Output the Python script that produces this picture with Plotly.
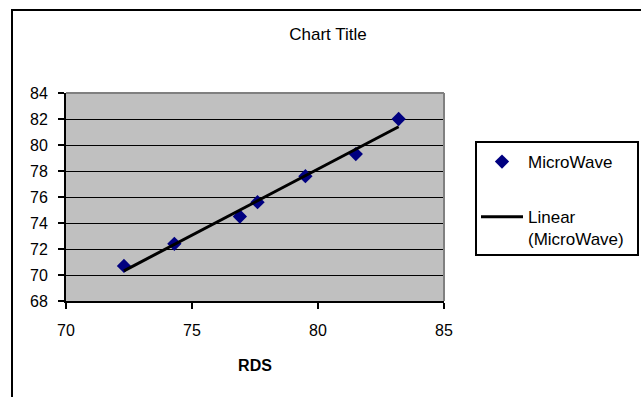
import numpy as np
import plotly.graph_objects as go

# Data
rds = [72.3, 74.3, 76.9, 77.6, 79.5, 81.5, 83.2]
microwave = [70.7, 72.4, 74.5, 75.6, 77.6, 79.3, 82.0]
x_ticks = [70, 75, 80, 85]
y_ticks = [68, 70, 72, 74, 76, 78, 80, 82, 84]

# Linear trendline (least squares)
slope, intercept = np.polyfit(rds, microwave, 1)
trend_x = [min(rds), max(rds)]
trend_y = [slope * v + intercept for v in trend_x]

W, H = 641, 397
L, R, T, B = 66, 197, 93, 96
pw, ph = W - L - R, H - T - B

def px_to_paper_x(p):
    return (p - L) / pw

def px_to_paper_y(p):
    return (H - B - p) / ph

FONT = "Liberation Sans, Arial, sans-serif"

fig = go.Figure()
fig.add_trace(go.Scatter(
    x=rds, y=microwave, mode="markers", name="MicroWave",
    legendgroup="a",
    marker=dict(symbol="diamond", size=11, color="#000080"),
))
fig.add_trace(go.Scatter(
    x=trend_x, y=trend_y, mode="lines", name="Linear<br>(MicroWave)",
    legendgroup="b",
    line=dict(color="black", width=3),
))

fig.update_layout(
    width=W, height=H,
    margin=dict(l=L, r=R, t=T, b=B),
    paper_bgcolor="white",
    plot_bgcolor="#C0C0C0",
    font=dict(family=FONT, size=16, color="black"),
    title=dict(text="Chart Title", x=328 / W, xref="container", xanchor="center",
               y=1 - 34 / H, yref="container", yanchor="middle",
               font=dict(size=17, color="black")),
    legend=dict(
        x=px_to_paper_x(476), xanchor="left",
        y=px_to_paper_y(144), yanchor="top",
        bgcolor="rgba(0,0,0,0)", borderwidth=0,
        itemwidth=42, traceorder="grouped", tracegroupgap=30,
        valign="top",
        font=dict(size=17),
    ),
    xaxis=dict(
        range=[70, 85], tickvals=x_ticks, showgrid=False, zeroline=False,
        showline=True, linecolor="black", linewidth=2,
        ticks="outside", ticklen=6, tickwidth=2, tickcolor="black",
        ticklabelstandoff=8,
        title=dict(text="<b>RDS</b>", standoff=22, font=dict(size=16)),
        automargin=False,
    ),
    yaxis=dict(
        range=[68, 84], tickvals=y_ticks, showgrid=True, gridcolor="black", gridwidth=1,
        zeroline=False, showline=True, linecolor="black", linewidth=2,
        ticks="outside", ticklen=6, tickwidth=2, tickcolor="black",
        ticklabelstandoff=7,
        automargin=False,
    ),
    shapes=[
        # plot area top and right border (gray)
        dict(type="line", xref="paper", yref="paper", x0=0, x1=1, y0=1, y1=1,
             line=dict(color="#808080", width=2)),
        dict(type="line", xref="paper", yref="paper", x0=1, x1=1, y0=0, y1=1,
             line=dict(color="#808080", width=2)),
        # legend box
        dict(type="rect", xref="paper", yref="paper",
             x0=px_to_paper_x(476), x1=px_to_paper_x(638),
             y0=px_to_paper_y(255), y1=px_to_paper_y(142),
             line=dict(color="black", width=2), fillcolor="white", layer="below"),
        # outer chart border
        dict(type="rect", xref="paper", yref="paper",
             x0=px_to_paper_x(12), x1=px_to_paper_x(700),
             y0=px_to_paper_y(460), y1=px_to_paper_y(10),
             line=dict(color="black", width=2)),
    ],
)

fig.write_html("out.html")
